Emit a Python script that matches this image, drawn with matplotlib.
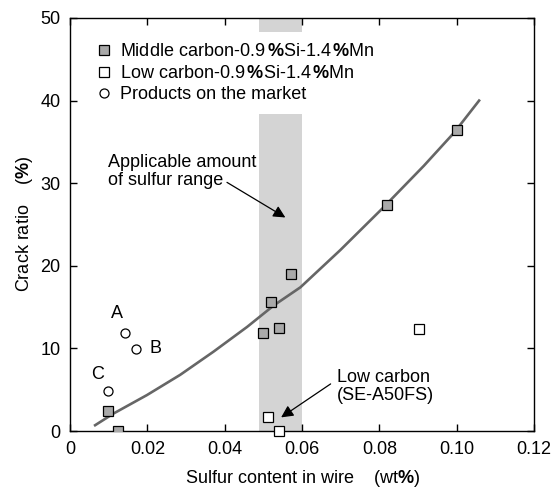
import matplotlib
matplotlib.use('Agg')
import matplotlib.pyplot as plt
from matplotlib.lines import Line2D

plt.rcParams['font.family'] = ['Liberation Sans', 'DejaVu Sans']
plt.rcParams['mathtext.fontset'] = 'custom'
plt.rcParams['mathtext.rm'] = 'Liberation Sans'
plt.rcParams['mathtext.bf'] = 'Liberation Sans:bold'

# middle carbon-0.9%Si-1.4%Mn
mid_s = [0.0099, 0.0123, 0.0499, 0.0521, 0.0541, 0.0572, 0.082, 0.1002]
mid_crack = [2.4, 0.0, 11.9, 15.6, 12.5, 19.0, 27.4, 36.4]

# low carbon-0.9%Si-1.4%Mn
low_s = [0.0512, 0.0541, 0.0902]
low_crack = [1.7, 0.0, 12.4]

# products on the market
market_s = [0.01425, 0.0171, 0.0099]
market_crack = [11.9, 9.9, 4.9]
market_names = ['A', 'B', 'C']

# trend curve
curve_s = [0.0065, 0.0112, 0.0199, 0.0285, 0.0371, 0.0458, 0.0527, 0.0596,
           0.0699, 0.0807, 0.0915, 0.0993, 0.1058]
curve_crack = [0.7, 2.1, 4.35, 6.8, 9.6, 12.6, 15.2, 17.4, 21.9, 26.9, 32.1, 36.1, 40.0]

band = (0.049, 0.060)

fig = plt.figure(figsize=(5.59, 4.90), dpi=100)
ax = fig.add_axes([0.1252, 0.1204, 0.8301, 0.8429])

ax.axvspan(band[0], band[1], color='#d4d4d4', lw=0, zorder=0)
ax.plot(curve_s, curve_crack, color='#666666', lw=1.9, zorder=2)

ax.plot(mid_s, mid_crack, 's', ms=7.5, mfc='#a9a9a9', mec='black', mew=0.9, zorder=3)
ax.plot(low_s, low_crack, 's', ms=7.5, mfc='white', mec='black', mew=0.9, zorder=3, clip_on=False)
ax.plot(market_s, market_crack, 'o', ms=6.5, mfc='white', mec='black', mew=0.9, zorder=3)

fs = 13
label_pos = [(0.0121, 14.2), (0.0222, 10.0), (0.0072, 6.8)]
for name, (lx, ly) in zip(market_names, label_pos):
    ax.text(lx, ly, name, fontsize=fs, ha='center', va='center')

arrow = dict(arrowstyle='-|>', color='black', lw=0.9, mutation_scale=18, shrinkA=0, shrinkB=0)
ax.text(0.0098, 31.4, 'Applicable amount\nof sulfur range', fontsize=fs,
        ha='left', va='center', linespacing=1.1)
ax.annotate('', xy=(0.0557, 25.85), xytext=(0.0406, 30.1), arrowprops=arrow)
ax.text(0.069, 5.35, 'Low carbon\n(SE-A50FS)', fontsize=fs,
        ha='left', va='center', linespacing=1.1)
ax.annotate('', xy=(0.0546, 1.65), xytext=(0.0674, 5.7), arrowprops=arrow)

handles = [
    Line2D([], [], ls='none', marker='s', ms=7.5, mfc='#a9a9a9', mec='black', mew=0.9),
    Line2D([], [], ls='none', marker='s', ms=7.5, mfc='white', mec='black', mew=0.9),
    Line2D([], [], ls='none', marker='o', ms=6.5, mfc='white', mec='black', mew=0.9),
]
labels = [r'Middle carbon-0.9$\,\mathbf{\%}$Si-1.4$\,\mathbf{\%}$Mn',
          r'Low carbon-0.9$\,\mathbf{\%}$Si-1.4$\,\mathbf{\%}$Mn',
          'Products on the market']
leg = ax.legend(handles, labels, loc='upper left', bbox_to_anchor=(0.022, 0.978), fontsize=fs,
                frameon=True, fancybox=False, framealpha=1, edgecolor='none', facecolor='white',
                handlelength=0.8, handletextpad=0.5, labelspacing=0.25, borderpad=0.6,
                borderaxespad=0.3)
leg.set_zorder(5)

ax.set_xlim(0, 0.12)
ax.set_ylim(0, 50)
ax.set_xticks([0, 0.02, 0.04, 0.06, 0.08, 0.10, 0.12])
ax.set_xticklabels(['0', '0.02', '0.04', '0.06', '0.08', '0.10', '0.12'])
ax.set_yticks([0, 10, 20, 30, 40, 50])
ax.tick_params(direction='in', length=5, width=1, top=True, right=True, labelsize=fs, pad=7)
for sp in ax.spines.values():
    sp.set_linewidth(1.0)

ax.set_xlabel(r'Sulfur content in wire    (wt$\mathbf{\%}$)', fontsize=fs, va='center')
ax.xaxis.set_label_coords(0.5, -0.114)
ax.set_ylabel(r'Crack ratio    ($\mathbf{\%}$)', fontsize=fs, va='center')
ax.yaxis.set_label_coords(-0.097, 0.5)

fig.savefig('out.png', dpi=100)
